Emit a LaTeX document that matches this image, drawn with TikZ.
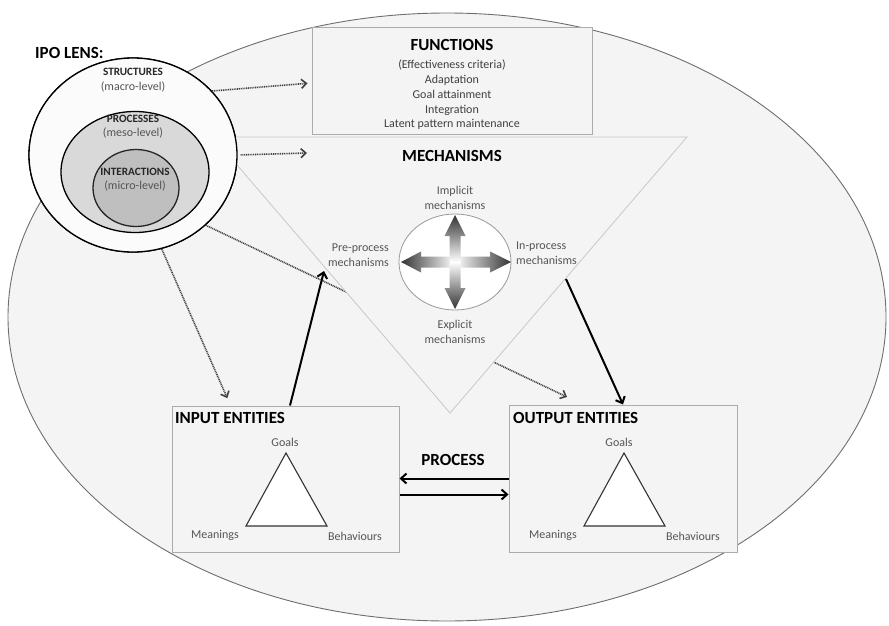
\documentclass[tikz,border=0pt]{standalone}
\usepackage{fontspec}
\setmainfont{Carlito}
\usetikzlibrary{shapes.geometric,arrows.meta}

\definecolor{panel}{HTML}{F4F4F4}
\definecolor{rimgray}{HTML}{6E6E6E}
\definecolor{boxgray}{HTML}{ABABAB}
\definecolor{trigray}{HTML}{C8C8C8}
\definecolor{dotgray}{HTML}{404040}
\definecolor{bodytext}{HTML}{404040}
\definecolor{softtext}{HTML}{555555}
\definecolor{tipdark}{HTML}{333333}

\begin{document}
\begin{tikzpicture}[x=1pt,y=-1pt,
  heading/.style={font=\fontsize{17}{20}\bfseries\selectfont, text=black, inner sep=0pt},
  body/.style={font=\fontsize{12}{14.7}\selectfont, text=bodytext, inner sep=0pt},
  small/.style={font=\fontsize{12}{15}\selectfont, text=softtext, inner sep=0pt},
  lenshead/.style={font=\fontsize{11.2}{13}\bfseries\selectfont, text=black!85, inner sep=0pt},
  lenssub/.style={font=\fontsize{12}{14}\selectfont, text=softtext, inner sep=0pt},
  entitybox/.style={draw=boxgray, line width=1pt, fill=panel, rectangle, inner sep=0pt},
  ring/.style={ellipse, draw=black, line width=1.3pt, inner sep=0pt},
  lensarrow/.style={draw=dotgray, line width=1.6pt, dash pattern=on 1pt off 0.8pt,
    -{Straight Barb[length=5pt,width=9pt]}},
  flow/.style={draw=black, line width=2pt, -{Straight Barb[length=5.5pt,width=10pt]}},
  fact/.style={draw=black!80, line width=1.1pt, fill=white, line join=miter}
]
\useasboundingbox (0,0) rectangle (889,626);

% outer context
\node[ellipse, draw=rimgray, line width=0.9pt, fill=panel, inner sep=0pt,
      minimum width=878pt, minimum height=608pt] (world) at (447,317) {};

% IPO lens (nested levels)
\node[ring, fill=panel!60!white, minimum width=208pt, minimum height=194pt] (lens) at (133,155) {};

% tips of the lens arrows
\coordinate (mechtip) at (307,153);
\coordinate (outtip) at (567,397);
\coordinate (pretip) at (324,271);
\coordinate (instart) at (566,279);

% lens -> output entities (runs behind the mechanisms triangle)
\draw[lensarrow] (lens.-44) -- (outtip);

% mechanisms triangle
\filldraw[fill=panel, draw=trigray, line width=0.8pt]
  (213,137) -- (687,137) -- (450,413) -- cycle;

% functions box
\node[entitybox, minimum width=280pt, minimum height=106pt] (functions) at (452,81) {};
\node[heading] (fnhead) at (452,45) {FUNCTIONS};
\node[body, align=center, anchor=north] (fnlist) at (452,60)
  {(Effectiveness criteria)\\Adaptation\\Goal attainment\\Integration\\Latent pattern maintenance};

% lens drawn over the triangle corner
\node[ring, fill=white!60!panel, minimum width=208pt, minimum height=194pt] (lensface) at (133,155) {};
\node[ring, fill=black!15, minimum width=148pt, minimum height=121pt] (meso) at (135,172) {};
\node[ring, fill=black!25, minimum width=86pt, minimum height=77pt, draw=black!85] (micro) at (136,188) {};

\node[heading, anchor=west] (lenstitle) at (35,53) {IPO LENS:};
\node[lenshead] (structures) at (133,72) {STRUCTURES};
\node[lenssub] (macro) at (133,87) {(macro-level)};
\node[lenshead] (processes) at (133,119) {PROCESSES};
\node[lenssub] (mesolabel) at (133,133) {(meso-level)};
\node[lenshead] (interactions) at (135,172) {INTERACTIONS};
\node[lenssub] (microlabel) at (135,186) {(micro-level)};

% lens -> functions / mechanisms / input
\draw[lensarrow, shorten >=4pt] (lens.39) -- ([yshift=-2pt]functions.west);
\draw[lensarrow, shorten <=3pt] (lens.east) -- (mechtip);

% mechanisms content
\node[heading] (mechhead) at (452,156) {MECHANISMS};
\node[ellipse, draw=black!40, line width=0.8pt, fill=white, inner sep=0pt,
      minimum width=112pt, minimum height=96pt] (compass) at (455,262) {};

% four shaded arms of the compass
\shade[left color=tipdark, right color=white]
  (455,256.5) -- (421,256.5) -- (421,251.5) -- (401,262) -- (421,272.5) -- (421,267.5) -- (455,267.5) -- cycle;
\shade[left color=white, right color=tipdark]
  (455,256.5) -- (490,256.5) -- (490,251.5) -- (511,262) -- (490,272.5) -- (490,267.5) -- (455,267.5) -- cycle;
\shade[top color=tipdark, bottom color=white]
  (449.5,262) -- (449.5,236) -- (444.5,236) -- (455,215) -- (465.5,236) -- (460.5,236) -- (460.5,262) -- cycle;
\shade[top color=white, bottom color=tipdark]
  (449.5,262) -- (449.5,288) -- (444.5,288) -- (455,309) -- (465.5,288) -- (460.5,288) -- (460.5,262) -- cycle;

\node[small, align=center] (implicit) at (455,198) {Implicit\\mechanisms};
\node[small, align=center] (explicit) at (455,332) {Explicit\\mechanisms};
\node[small, align=right, anchor=east] (preproc) at (389,255.5) {Pre-process\\mechanisms};
\node[small, align=left, anchor=west] (inproc) at (516,253.5) {In-process\\mechanisms};

% input and output entities
\node[entitybox, minimum width=227pt, minimum height=146pt] (inbox) at (285.5,479) {};
\node[entitybox, minimum width=228pt, minimum height=147pt] (outbox) at (623,478.5) {};

\node[heading, anchor=west] (inhead) at (175,418) {INPUT ENTITIES};
\node[heading, anchor=west] (outhead) at (513,418) {OUTPUT ENTITIES};

\filldraw[fact] (286,453) -- (246,526) -- (327,526) -- cycle;
\filldraw[fact] (624,453) -- (584,526) -- (665,526) -- cycle;

\node[small] (ingoals) at (285,442) {Goals};
\node[small] (inmean) at (215,535) {Meanings};
\node[small] (inbeh) at (355,536) {Behaviours};
\node[small] (outgoals) at (619,442) {Goals};
\node[small] (outmean) at (553,535) {Meanings};
\node[small] (outbeh) at (693,536) {Behaviours};

\draw[lensarrow, shorten >=8pt] (lens.-73) -- ([xshift=59pt]inbox.north west);

% process links
\node[heading] (process) at (453,460) {PROCESS};
\draw[flow] (outbox.west) -- (outbox.west -| inbox.east);
\draw[flow] ([yshift=-15.5pt]inbox.east) -- ([yshift=-15.5pt]inbox.east -| outbox.west);

% feed into and out of the mechanisms
\draw[flow] ([xshift=4.5pt]inbox.north) -- (pretip);
\draw[flow] (instart) -- (outbox.north);
\end{tikzpicture}
\end{document}
